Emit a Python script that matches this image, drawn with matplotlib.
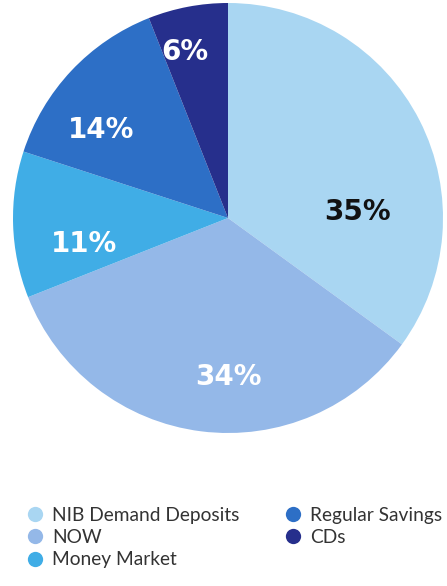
import matplotlib
matplotlib.use("Agg")
import matplotlib.pyplot as plt
from matplotlib.lines import Line2D

categories = ["NIB Demand Deposits", "NOW", "Money Market", "Regular Savings", "CDs"]
shares = [35, 34, 11, 14, 6]
colors = ["#a9d6f2", "#94b8e8", "#40ade6", "#2d6fc6", "#262f8c"]
label_colors = ["#111111", "white", "white", "white", "white"]
# label anchor points inside each wedge (unit-radius coordinates)
label_pos = [(0.60, 0.03), (0.0, -0.74), (-0.67, -0.12), (-0.59, 0.41), (-0.20, 0.77)]

plt.rcParams["font.family"] = ["Lato", "DejaVu Sans"]

fig = plt.figure(figsize=(4.47, 5.86), dpi=100)
ax = fig.add_axes([13 / 447, 1 - 433 / 586, 430 / 447, 430 / 586])
wedges, _ = ax.pie(shares, colors=colors, startangle=90, counterclock=False,
                   radius=1.0, wedgeprops=dict(linewidth=0))
for v, (x, y), c in zip(shares, label_pos, label_colors):
    ax.text(x, y, f"{v}%", ha="center", va="center", color=c,
            fontsize=20, fontweight="bold", family="DejaVu Sans")
ax.set_xlim(-1, 1)
ax.set_ylim(-1, 1)
ax.set_aspect("equal")
ax.axis("off")

handles = [Line2D([], [], marker="o", linestyle="none", markersize=11,
                  markerfacecolor=c, markeredgecolor="none") for c in colors]
fig.legend(handles, categories, ncol=2, loc="upper left",
           bbox_to_anchor=(0.035, 1 - 497 / 586), frameon=False,
           fontsize=13.8, labelcolor="#333333", handletextpad=0.4,
           columnspacing=2.3, labelspacing=0.28, borderpad=0, handlelength=1.0)

fig.savefig("out.png", dpi=100)
